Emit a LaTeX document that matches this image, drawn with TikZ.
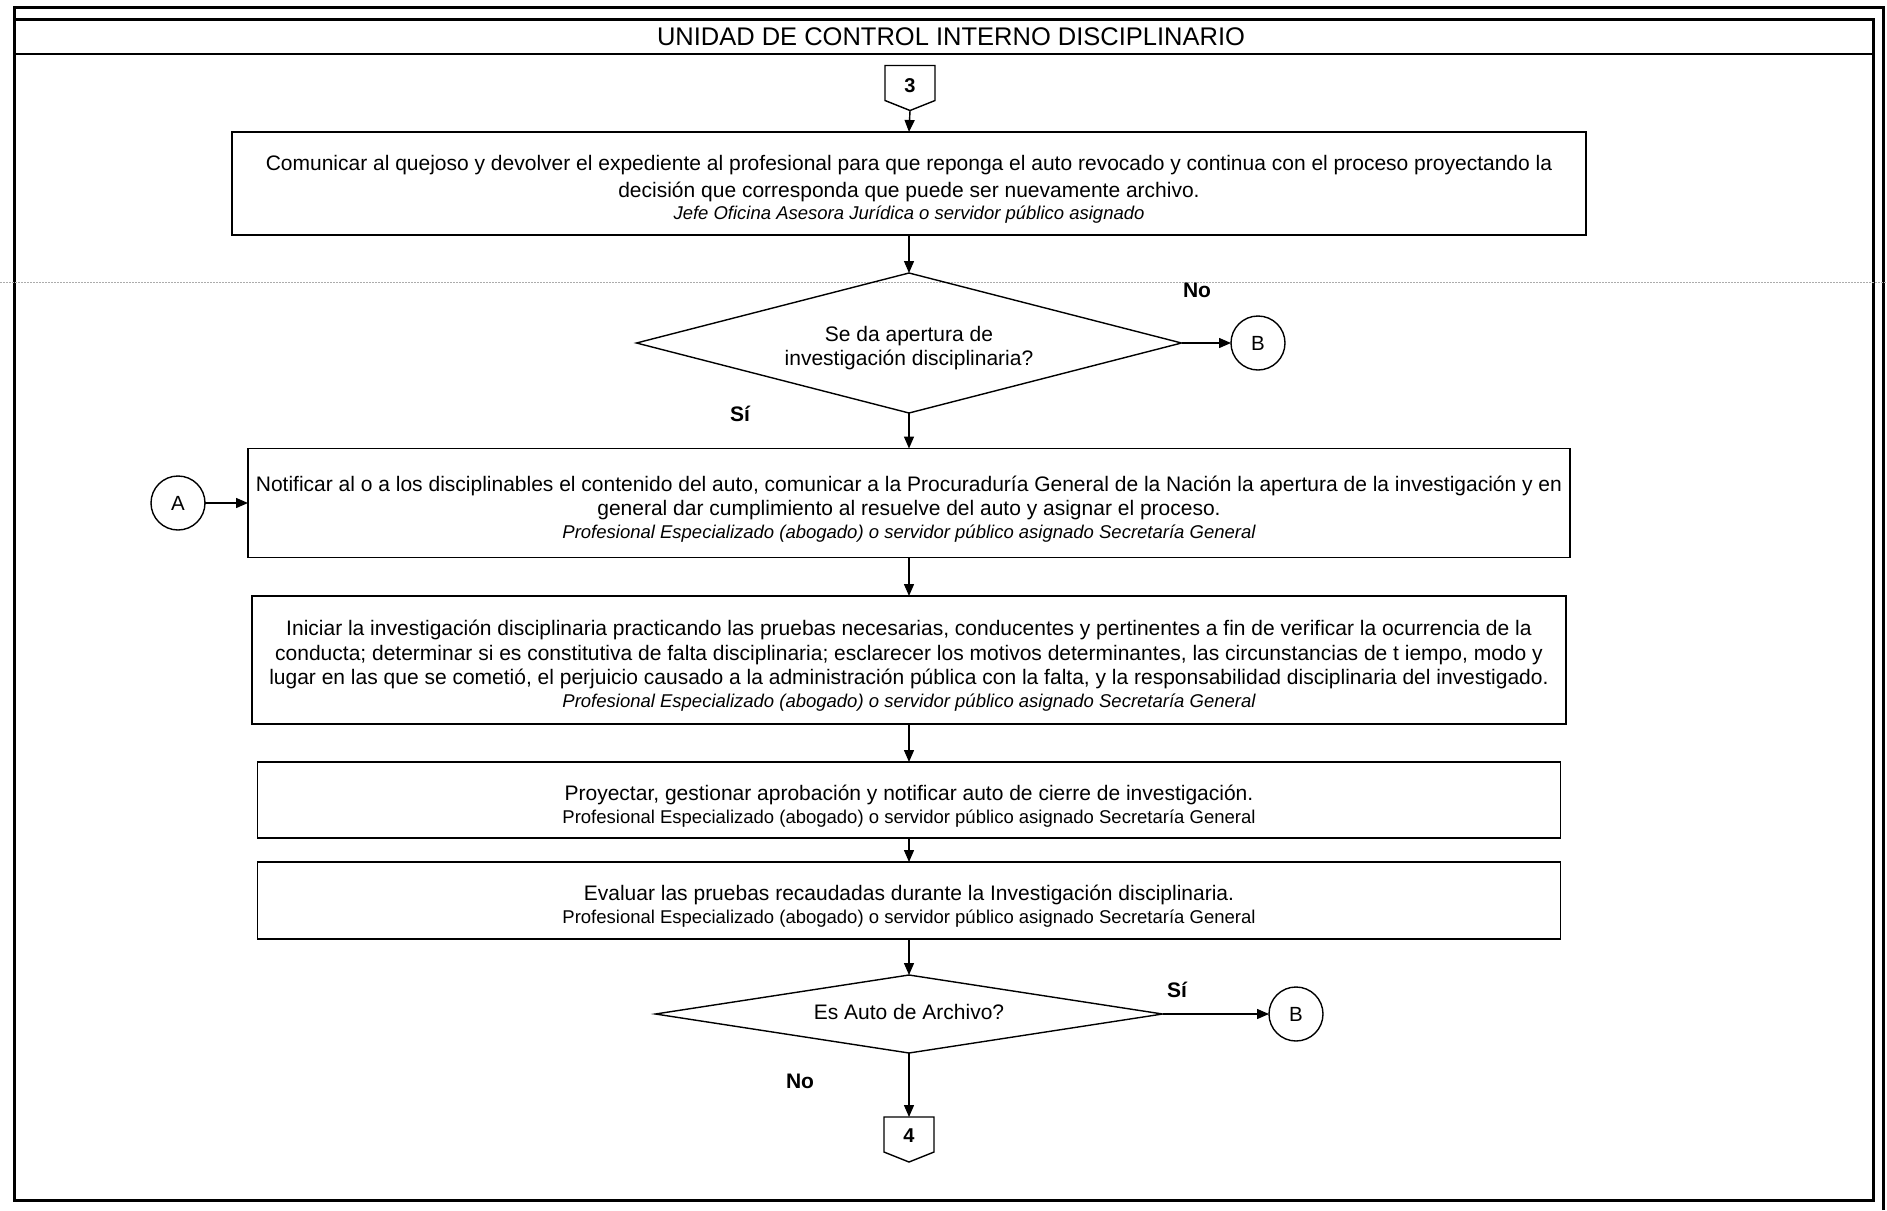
\documentclass[tikz,border=0pt]{standalone}
\usepackage{fontspec}
\setmainfont{Liberation Sans}
\usetikzlibrary{arrows.meta,shapes.geometric}

% smaller line naming the person in charge of a step
\newcommand\respline[1]{{\fontsize{18.5}{22}\selectfont #1}}

\begin{document}
\begin{tikzpicture}[x=1pt,y=-1pt,
  every node/.style={inner sep=0pt, outer sep=0pt},
  stepbox/.style={draw, line width=1.6pt},
  steptext/.style={align=center, font=\fontsize{21}{24.5}\selectfont},
  decision/.style={draw, line width=1.4pt, diamond},
  decisiontext/.style={align=center, font=\fontsize{21}{24}\selectfont},
  joint/.style={draw, circle, line width=1.4pt, minimum size=54pt,
    font=\fontsize{20.5}{24}\selectfont},
  pagelink/.style={minimum width=50pt, minimum height=35pt},
  pagenum/.style={font=\bfseries\fontsize{20}{24}\selectfont},
  flow/.style={line width=1.4pt, -{Triangle[length=12pt,width=10pt]}},
  answer/.style={font=\bfseries\fontsize{21}{24}\selectfont},
  frame/.style={line width=3pt},
]
\useasboundingbox (0,0) rectangle (1887,1210);

% page frame and title band
\draw[frame] (1883,1210) -- (1883,7) -- (14,7) -- (14,1200) -- (1873,1200) -- (1873,19) -- (14,19);
\draw[line width=2pt] (14,54) -- (1873,54);
\node[font=\fontsize{25.5}{28}\selectfont] (title) at (951,37) {UNIDAD DE CONTROL INTERNO DISCIPLINARIO};

% faint fold line across the sheet
\draw[gray!65, line width=0.8pt, dash pattern=on 1.5pt off 1.5pt] (0,282) -- (1887,282);

% incoming off-page connector 3
\node[pagelink] (c3) at (910,83) {};
\node[pagenum] (c3num) at ([yshift=-3pt]c3.center) {3};
\draw[line width=1.4pt] (c3.north west) -- (c3.north east) -- (c3.south east)
  -- ([yshift=-10pt]c3.south) coordinate (c3tip) -- (c3.south west) -- cycle;

% step 1
\node[stepbox, minimum width=1354pt, minimum height=103pt] (s1) at (909,183.5) {};
\node[steptext] (s1text) at ([yshift=-6pt]s1.center)
  {Comunicar al quejoso y devolver el expediente al profesional para que reponga el auto revocado y continua con el proceso proyectando la\\[2pt]
   decisión que corresponda que puede ser nuevamente archivo.\\[-2.5pt]
   \respline{\itshape Jefe Oficina Asesora Jurídica o servidor público asignado}};

% first decision
\node[decision, minimum width=545pt, minimum height=140pt] (d1) at (909,343) {};
\node[decisiontext] (d1text) at ([yshift=-5pt]d1.center)
  {Se da apertura de\\ investigación disciplinaria?};
\node[joint] (b1) at (1258,343) {B};

% step 2
\node[stepbox, minimum width=1322pt, minimum height=109pt] (s2) at (909,503) {};
\node[steptext] (s2text) at ([yshift=-6pt]s2.center)
  {Notificar al o a los disciplinables el contenido del auto, comunicar a la Procuraduría General de la Nación la apertura de la investigación y en\\
   general dar cumplimiento al resuelve del auto y asignar el proceso.\\[-1.5pt]
   \respline{\itshape Profesional Especializado (abogado) o servidor público asignado Secretaría General}};
\node[joint] (a) at (178,503) {A};

% step 3
\node[stepbox, minimum width=1314pt, minimum height=128pt] (s3) at (909,660) {};
\node[steptext] (s3text) at ([yshift=-6pt]s3.center)
  {Iniciar la investigación disciplinaria practicando las pruebas necesarias, conducentes y pertinentes a fin de verificar la ocurrencia de la\\
   conducta; determinar si es constitutiva de falta disciplinaria; esclarecer los motivos determinantes, las circunstancias de t iempo, modo y\\
   lugar en las que se cometió, el perjuicio causado a la administración pública con la falta, y la responsabilidad disciplinaria del investigado.\\[-1.5pt]
   \respline{\itshape Profesional Especializado (abogado) o servidor público asignado Secretaría General}};

% step 4
\node[stepbox, minimum width=1303pt, minimum height=76pt] (s4) at (909,800) {};
\node[steptext] (s4text) at ([yshift=-6pt]s4.center)
  {Proyectar, gestionar aprobación y notificar auto de cierre de investigación.\\[-1.5pt]
   \respline{Profesional Especializado (abogado) o servidor público asignado Secretaría General}};

% step 5
\node[stepbox, minimum width=1303pt, minimum height=77pt] (s5) at (909,900.5) {};
\node[steptext] (s5text) at ([yshift=-6pt]s5.center)
  {Evaluar las pruebas recaudadas durante la Investigación disciplinaria.\\[-1.5pt]
   \respline{Profesional Especializado (abogado) o servidor público asignado Secretaría General}};

% second decision
\node[decision, minimum width=507pt, minimum height=78pt] (d2) at (909,1014) {};
\node[decisiontext] (d2text) at ([yshift=2pt]d2.center) {Es Auto de Archivo?};
\node[joint] (b2) at (1296,1014) {B};

% outgoing off-page connector 4
\node[pagelink] (c4) at (909,1134.5) {};
\node[pagenum] (c4num) at ([yshift=-1pt]c4.center) {4};
\draw[line width=1.4pt] (c4.north west) -- (c4.north east) -- (c4.south east)
  -- ([yshift=-10pt]c4.south) -- (c4.south west) -- cycle;

% answer labels
\node[answer] (no1) at (1197,290) {No};
\node[answer] (si1) at (740,414) {Sí};
\node[answer] (si2) at (1177,990) {Sí};
\node[answer] (no2) at (800,1081) {No};

% connectors
\draw[flow] (c3tip) -- (s1.north);
\draw[flow] (s1.south) -- (d1.north);
\draw[flow] (d1.east) -- (b1.west);
\draw[flow] (d1.south) -- (s2.north);
\draw[flow] (a.east) -- (s2.west);
\draw[flow] (s2.south) -- (s3.north);
\draw[flow] (s3.south) -- (s4.north);
\draw[flow] (s4.south) -- (s5.north);
\draw[flow] (s5.south) -- (d2.north);
\draw[flow] (d2.east) -- (b2.west);
\draw[flow] (d2.south) -- (c4.north);
\end{tikzpicture}
\end{document}
